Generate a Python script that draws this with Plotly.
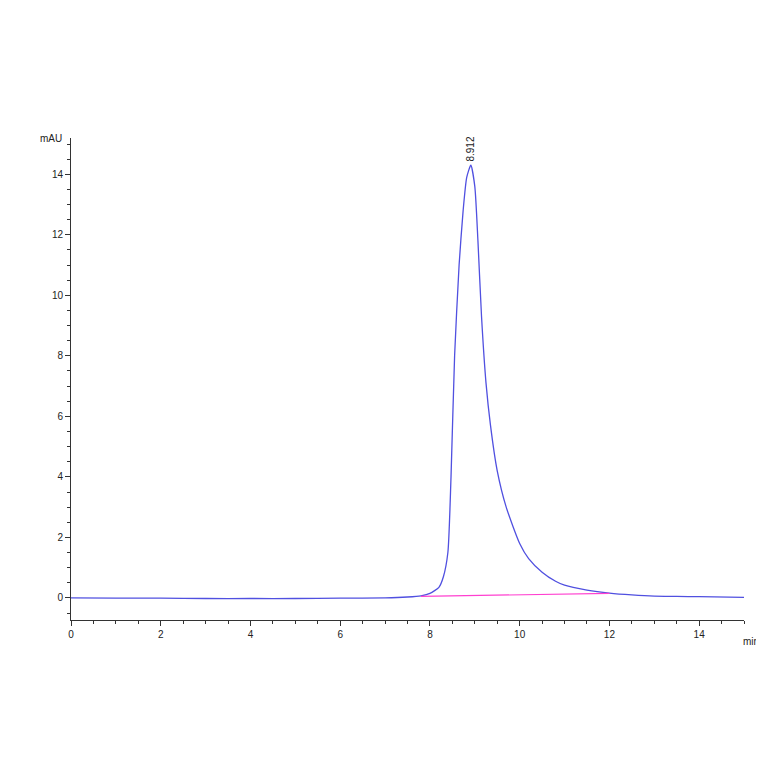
import plotly.graph_objects as go

time = [0, 1, 2, 3, 4, 5, 6, 7, 7.5, 7.8, 8.0, 8.2, 8.3, 8.4, 8.47, 8.55, 8.65, 8.74, 8.82, 8.912, 9.0, 9.07, 9.15, 9.25, 9.35, 9.5, 9.7, 10.0, 10.2, 10.5, 10.8, 11.0, 11.5, 12.0, 12.5, 13.0, 13.5, 14.0, 15.0]
signal = [0, -0.01, -0.01, -0.02, -0.02, -0.02, -0.01, 0.0, 0.03, 0.07, 0.15, 0.35, 0.7, 1.5, 4.0, 8.0, 11.0, 12.8, 13.9, 14.3, 13.6, 11.8, 9.3, 7.1, 5.7, 4.2, 3.0, 1.8, 1.3, 0.85, 0.55, 0.42, 0.26, 0.16, 0.1, 0.06, 0.05, 0.04, 0.02]
base_t = [7.8, 12.0]
base_v = [0.05, 0.15]
peak_t = 8.912
peak_v = 14.3
peak_label = "8.912"

fig = go.Figure()
fig.add_trace(go.Scatter(x=time, y=signal, mode="lines", line=dict(color="#5050e0", width=1.3, shape="spline", smoothing=0.6)))
fig.add_trace(go.Scatter(x=base_t, y=base_v, mode="lines", line=dict(color="#ff40d0", width=1.2)))
fig.add_annotation(x=peak_t, y=peak_v, text=peak_label, textangle=-90, showarrow=False, yanchor="bottom", yshift=2, font=dict(size=10, color="#222"))
fig.add_annotation(xref="paper", yref="paper", x=-0.01, y=1.0, text="mAU", showarrow=False, xanchor="right", yanchor="middle", font=dict(size=10, color="#222"))
fig.add_annotation(xref="paper", yref="paper", x=0.995, y=-0.03, text="min", showarrow=False, xanchor="left", yanchor="top", font=dict(size=10, color="#222"))

fig.update_layout(
    width=764, height=764, showlegend=False, plot_bgcolor="white", paper_bgcolor="white",
    margin=dict(l=63, r=28, t=130, b=152, autoexpand=False),
    font=dict(family="Liberation Sans", size=10, color="#222"),
)
fig.update_xaxes(range=[0, 15], tickvals=[0, 2, 4, 6, 8, 10, 12, 14], showgrid=False, zeroline=False, automargin=False,
                 showline=True, linecolor="#333", ticks="outside", ticklen=5, tickcolor="#333",
                 minor=dict(dtick=0.5, ticks="outside", ticklen=3, tickcolor="#333"))
fig.update_yaxes(range=[-0.73, 15.2], tickvals=[0, 2, 4, 6, 8, 10, 12, 14], showgrid=False, zeroline=False, automargin=False,
                 showline=True, linecolor="#333", ticks="outside", ticklen=5, tickcolor="#333",
                 minor=dict(dtick=0.5, ticks="outside", ticklen=3, tickcolor="#333"))
fig.write_html("out.html")
